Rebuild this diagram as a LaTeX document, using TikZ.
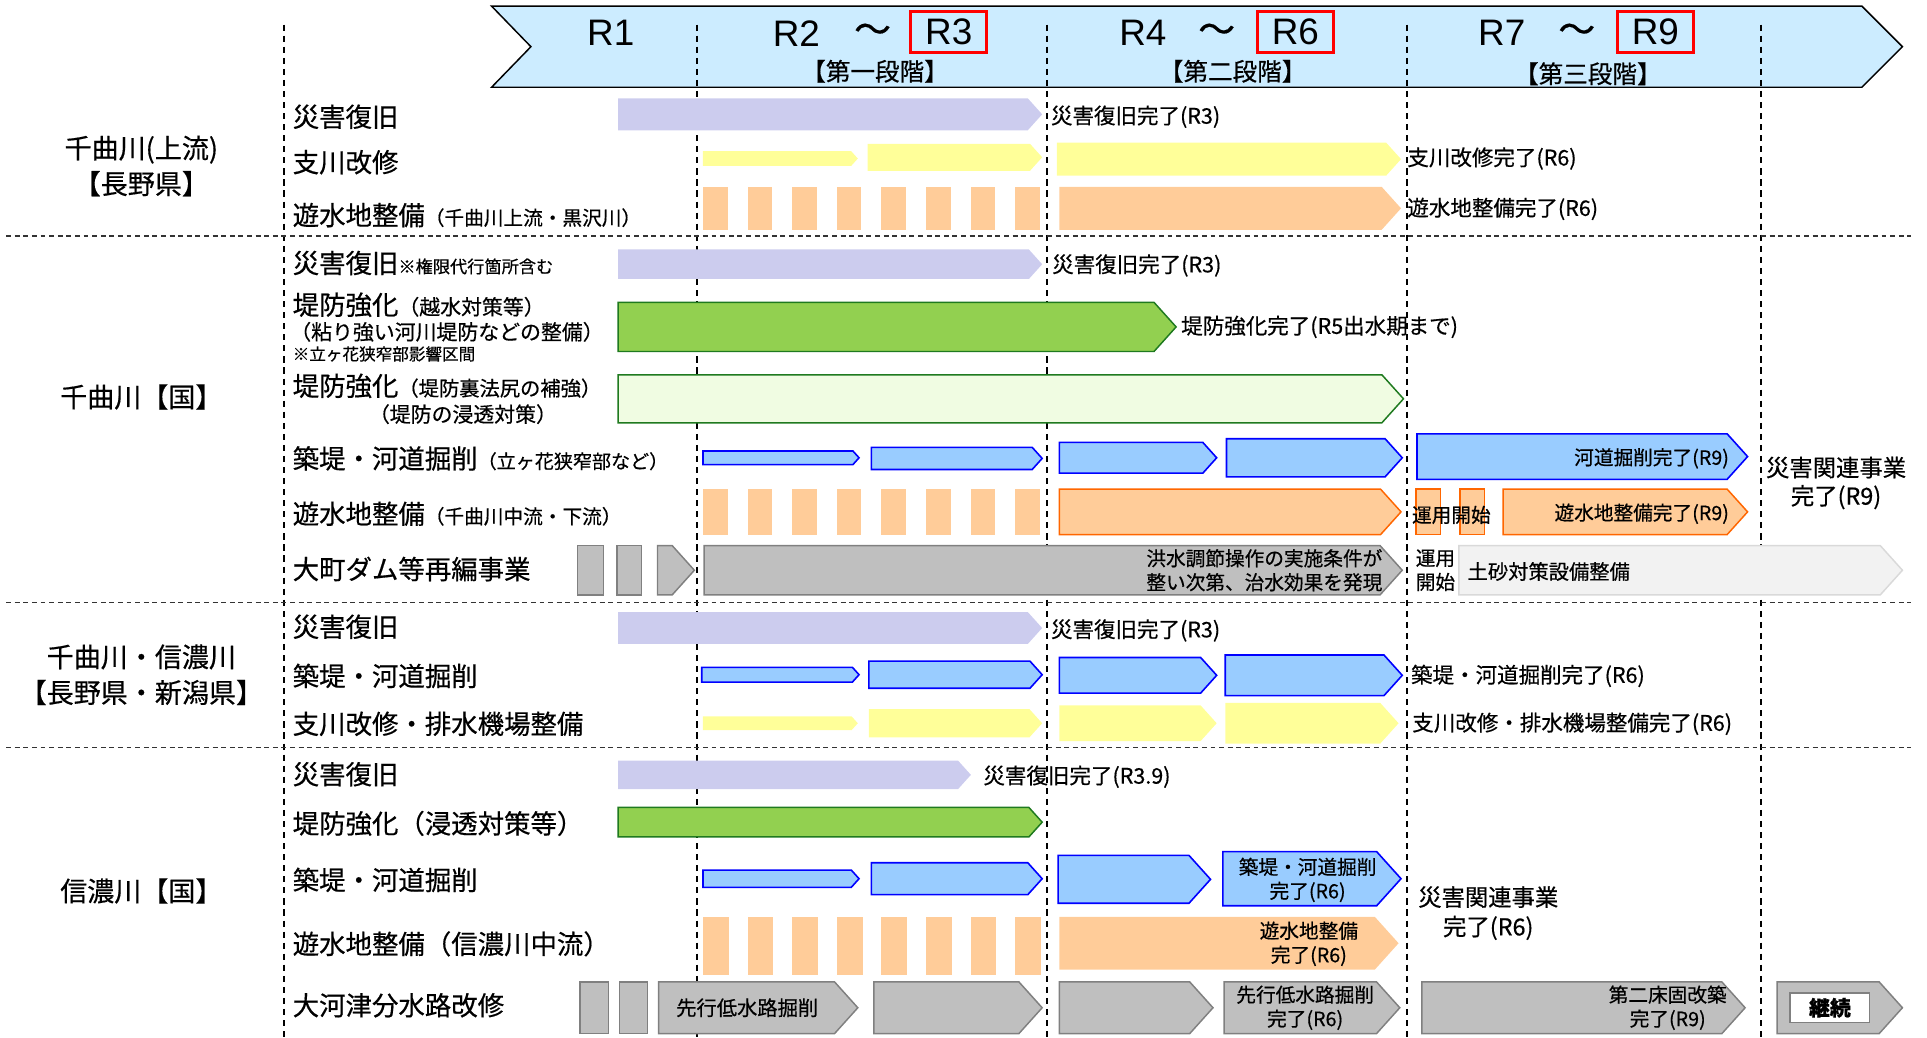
\documentclass[tikz,border=0pt]{standalone}
\usepackage{fontspec}
\setmainfont{Noto Sans CJK JP}[FakeBold=0.5]
\newfontfamily\latinsf{Liberation Sans}
\definecolor{bnr}{HTML}{CCECFF}
\definecolor{lav}{HTML}{CCCCEE}
\definecolor{yel}{HTML}{FFFF99}
\definecolor{org}{HTML}{FFCC99}
\definecolor{orgline}{HTML}{FF6600}
\definecolor{grn}{HTML}{92D050}
\definecolor{grnline}{HTML}{1F7A1F}
\definecolor{lgrn}{HTML}{F0FCE2}
\definecolor{blu}{HTML}{99CCFF}
\definecolor{bluline}{HTML}{0000FF}
\definecolor{gry}{HTML}{BFBFBF}
\definecolor{gryline}{HTML}{808080}
\definecolor{lgry}{HTML}{F2F2F2}
\definecolor{lgryline}{HTML}{D9D9D9}
\newcommand{\fsz}[2]{\fontsize{#1}{#2}\selectfont}
\newcommand{\pbar}[5]{\draw[#1] (#2,#4) -- ({#3-0.45*(#5-#4)},#4) -- (#3,{0.5*(#4+#5)}) -- ({#3-0.45*(#5-#4)},#5) -- (#2,#5) -- cycle;}

\begin{document}
\begin{tikzpicture}[x=1pt, y=-1pt,
    vdash/.style={black, line width=1.1pt, dash pattern=on 5pt off 4pt},
    hdash/.style={black!80, line width=1pt, dash pattern=on 4pt off 3pt},
    lavbar/.style={fill=lav, draw=none},
    yelbar/.style={fill=yel, draw=none},
    orgbar/.style={fill=org, draw=none},
    orgbox/.style={fill=org, draw=orgline, line width=1.2pt},
    grnbar/.style={fill=grn, draw=grnline, line width=1.2pt},
    lgrnbar/.style={fill=lgrn, draw=grnline, line width=1.2pt},
    blubar/.style={fill=blu, draw=bluline, line width=1.3pt},
    grybar/.style={fill=gry, draw=gryline, line width=1.2pt},
    lgrybar/.style={fill=lgry, draw=lgryline, line width=1.2pt},
    grp/.style={align=center, inner sep=0pt, font=\fsz{22}{29}},
    lbl/.style={anchor=west, inner sep=0pt, font=\fsz{21.5}{24}},
    done/.style={anchor=west, inner sep=0pt, font=\fsz{17.5}{20}},
    intext/.style={align=center, inner sep=0pt, font=\fsz{16}{19.5}},
    yr/.style={inner sep=0pt, font=\latinsf\fsz{30}{30}},
    rbox/.style={draw=red, line width=2.5pt, minimum width=62pt, minimum height=34pt, inner sep=0pt, font=\latinsf\fsz{30}{30}},
    stage/.style={inner sep=0pt, font=\fsz{20}{20}}]
\useasboundingbox (0,0) rectangle (1568,844);

\draw[fill=bnr, line width=1.2pt] (400,5) -- (1515,5) -- (1548,38) -- (1515,71) -- (400,71) -- (432,38) -- cycle;
\foreach \xx in {231,567,852,1145,1433}
  \draw[vdash] (\xx,20) -- (\xx,844);
\foreach \yy in {192,490,608}
  \draw[hdash] (5,\yy) -- (1555,\yy);

\node[yr] (y1) at (497,27) {R1};
\node[yr] (y2) at (648,27) {R2};
\node[stage, font=\fsz{30}{30}] (t2) at (710,27) {～};
\node[rbox] (y3) at (772,26) {R3};
\node[stage] (s1) at (712,58) {【第一段階】};
\node[yr] (y4) at (930,27) {R4};
\node[stage, font=\fsz{30}{30}] (t4) at (990,27) {～};
\node[rbox] (y6) at (1054,26) {R6};
\node[stage] (s2) at (1003,58) {【第二段階】};
\node[yr] (y7) at (1222,27) {R7};
\node[stage, font=\fsz{30}{30}] (t7) at (1283,27) {～};
\node[rbox] (y9) at (1347,26) {R9};
\node[stage] (s3) at (1292,60) {【第三段階】};

\node[grp] (g1) at (115,135) {千曲川(上流)\\【長野県】};
\node[grp] (g2) at (115,323) {千曲川【国】};
\node[grp] (g3) at (115,549) {千曲川・信濃川\\【長野県・新潟県】};
\node[grp] (g4) at (115,725) {信濃川【国】};

\node[lbl] (a1) at (238,95) {災害復旧};
\node[lbl] (a2) at (238,132) {支川改修};
\node[lbl] (a3) at (238,175) {遊水地整備{\fsz{16}{16}（千曲川上流・黒沢川）}};
\node[lbl] (b1) at (238,214) {災害復旧{\fsz{14}{14}※権限代行箇所含む}};
\node[lbl] (b2) at (238,248) {堤防強化{\fsz{17}{17}（越水対策等）}};
\node[lbl, font=\fsz{17}{17}] (b2a) at (236,270) {（粘り強い河川堤防などの整備）};
\node[lbl, font=\fsz{13.5}{14}] (b2b) at (238,288) {※立ヶ花狭窄部影響区間};
\node[lbl] (b3) at (238,314) {堤防強化{\fsz{16.5}{17}（堤防裏法尻の補強）}};
\node[lbl, font=\fsz{17}{17}] (b3a) at (300,337) {（堤防の浸透対策）};
\node[lbl] (b4) at (238,373) {築堤・河道掘削{\fsz{15.5}{16}（立ヶ花狭窄部など）}};
\node[lbl] (b5) at (238,418) {遊水地整備{\fsz{16}{16}（千曲川中流・下流）}};
\node[lbl] (b6) at (238,463) {大町ダム等再編事業};
\node[lbl] (c1) at (238,510) {災害復旧};
\node[lbl] (c2) at (238,550) {築堤・河道掘削};
\node[lbl] (c3) at (238,589) {支川改修・排水機場整備};
\node[lbl] (d1) at (238,630) {災害復旧};
\node[lbl] (d2) at (238,670) {堤防強化（浸透対策等）};
\node[lbl] (d3) at (238,716) {築堤・河道掘削};
\node[lbl] (d4) at (238,768) {遊水地整備（信濃川中流）};
\node[lbl] (d5) at (238,818) {大河津分水路改修};

% 千曲川(上流)
\pbar{lavbar}{503}{848}{80}{106}
\node[done] (a1e) at (855,95) {災害復旧完了(R3)};
\pbar{yelbar}{572}{698}{123}{135}
\pbar{yelbar}{706}{848}{117}{139}
\pbar{yelbar}{860}{1140}{116}{143}
\node[done] (a2e) at (1145,129) {支川改修完了(R6)};
\foreach \i in {0,...,7}
  \fill[org] ({572+36.3*\i},152) rectangle +(20,35);
\pbar{orgbar}{862}{1140}{152}{187}
\node[done] (a3e) at (1145,170) {遊水地整備完了(R6)};

% 千曲川【国】
\pbar{lavbar}{503}{848}{203}{227}
\node[done] (b1e) at (856,216) {災害復旧完了(R3)};
\pbar{grnbar}{503}{957}{246}{286}
\node[done] (b2e) at (961,266) {堤防強化完了(R5出水期まで)};
\pbar{lgrnbar}{503}{1142}{305}{344}
\pbar{blubar}{572}{699}{367}{378}
\pbar{blubar}{709}{848}{364}{382}
\pbar{blubar}{862}{990}{360}{385}
\pbar{blubar}{998}{1141}{357}{388}
\pbar{blubar}{1153}{1422}{353}{390}
\node[intext, anchor=east] (b4e) at (1407,373) {河道掘削完了(R9)};
\foreach \i in {0,...,7}
  \fill[org] ({572+36.3*\i},398) rectangle +(20,37);
\pbar{orgbox}{862}{1140}{398}{435}
\draw[orgbox] (1152,398) rectangle (1172,435);
\draw[orgbox] (1188,398) rectangle (1208,435);
\node[intext] (b5s) at (1181,419) {運用開始};
\pbar{orgbox}{1223}{1422}{398}{435}
\node[intext, anchor=east] (b5e) at (1407,418) {遊水地整備完了(R9)};
\draw[grybar] (470,444) rectangle (491,484);
\draw[grybar] (502,444) rectangle (522,484);
\pbar{grybar}{535}{565}{444}{484}
\pbar{grybar}{573}{1141}{444}{484}
\node[intext, align=right, anchor=east] (b6a) at (1125,464) {洪水調節操作の実施条件が\\整い次第、治水効果を発現};
\node[intext] (b6s) at (1168,464) {運用\\開始};
\pbar{lgrybar}{1187}{1548}{444}{484}
\node[intext, anchor=west, font=\fsz{16.5}{17}] (b6b) at (1194,465) {土砂対策設備整備};
\node[intext, font=\fsz{19}{23}] (b7) at (1494,393) {災害関連事業\\完了(R9)};

% 千曲川・信濃川【長野県・新潟県】
\pbar{lavbar}{503}{848}{498}{524}
\node[done] (c1e) at (855,513) {災害復旧完了(R3)};
\pbar{blubar}{571}{699}{543}{555}
\pbar{blubar}{707}{848}{538}{560}
\pbar{blubar}{862}{990}{535}{564}
\pbar{blubar}{997}{1141}{533}{566}
\node[done] (c2e) at (1148,550) {築堤・河道掘削完了(R6)};
\pbar{yelbar}{572}{698}{583}{594}
\pbar{yelbar}{707}{848}{577}{600}
\pbar{yelbar}{862}{990}{574}{603}
\pbar{yelbar}{997}{1138}{572}{605}
\node[done] (c3e) at (1149,589) {支川改修・排水機場整備完了(R6)};

% 信濃川【国】
\pbar{lavbar}{503}{790}{619}{642}
\node[done] (d1e) at (800,632) {災害復旧完了(R3.9)};
\pbar{grnbar}{503}{848}{657}{681}
\pbar{blubar}{572}{699}{708}{722}
\pbar{blubar}{709}{848}{702}{728}
\pbar{blubar}{861}{985}{696}{735}
\pbar{blubar}{995}{1140}{693}{737}
\node[intext] (d3e) at (1064,716) {築堤・河道掘削\\完了(R6)};
\foreach \i in {0,...,7}
  \fill[org] ({572+36.3*\i},746) rectangle +(21,47);
\pbar{orgbar}{862}{1138}{746}{789}
\node[intext] (d4e) at (1065,768) {遊水地整備\\完了(R6)};
\draw[grybar] (472,799) rectangle (495,841);
\draw[grybar] (504,799) rectangle (527,841);
\pbar{grybar}{536}{698}{799}{841}
\node[intext, font=\fsz{16.5}{17}] (d5a) at (608,820) {先行低水路掘削};
\pbar{grybar}{711}{848}{799}{841}
\pbar{grybar}{862}{987}{799}{841}
\pbar{grybar}{996}{1139}{799}{841}
\node[intext] (d5b) at (1062,820) {先行低水路掘削\\完了(R6)};
\pbar{grybar}{1157}{1420}{799}{841}
\node[intext] (d5c) at (1357,820) {第二床固改築\\完了(R9)};
\pbar{grybar}{1446}{1548}{799}{841}
\node[draw=gryline, fill=white, line width=1pt, minimum width=65pt, minimum height=24pt, inner sep=0pt, font=\bfseries\fsz{17}{17}] (d5d) at (1489,820) {継続};
\node[intext, font=\fsz{19}{24}] (d6) at (1211,743) {災害関連事業\\完了(R6)};
\end{tikzpicture}
\end{document}
